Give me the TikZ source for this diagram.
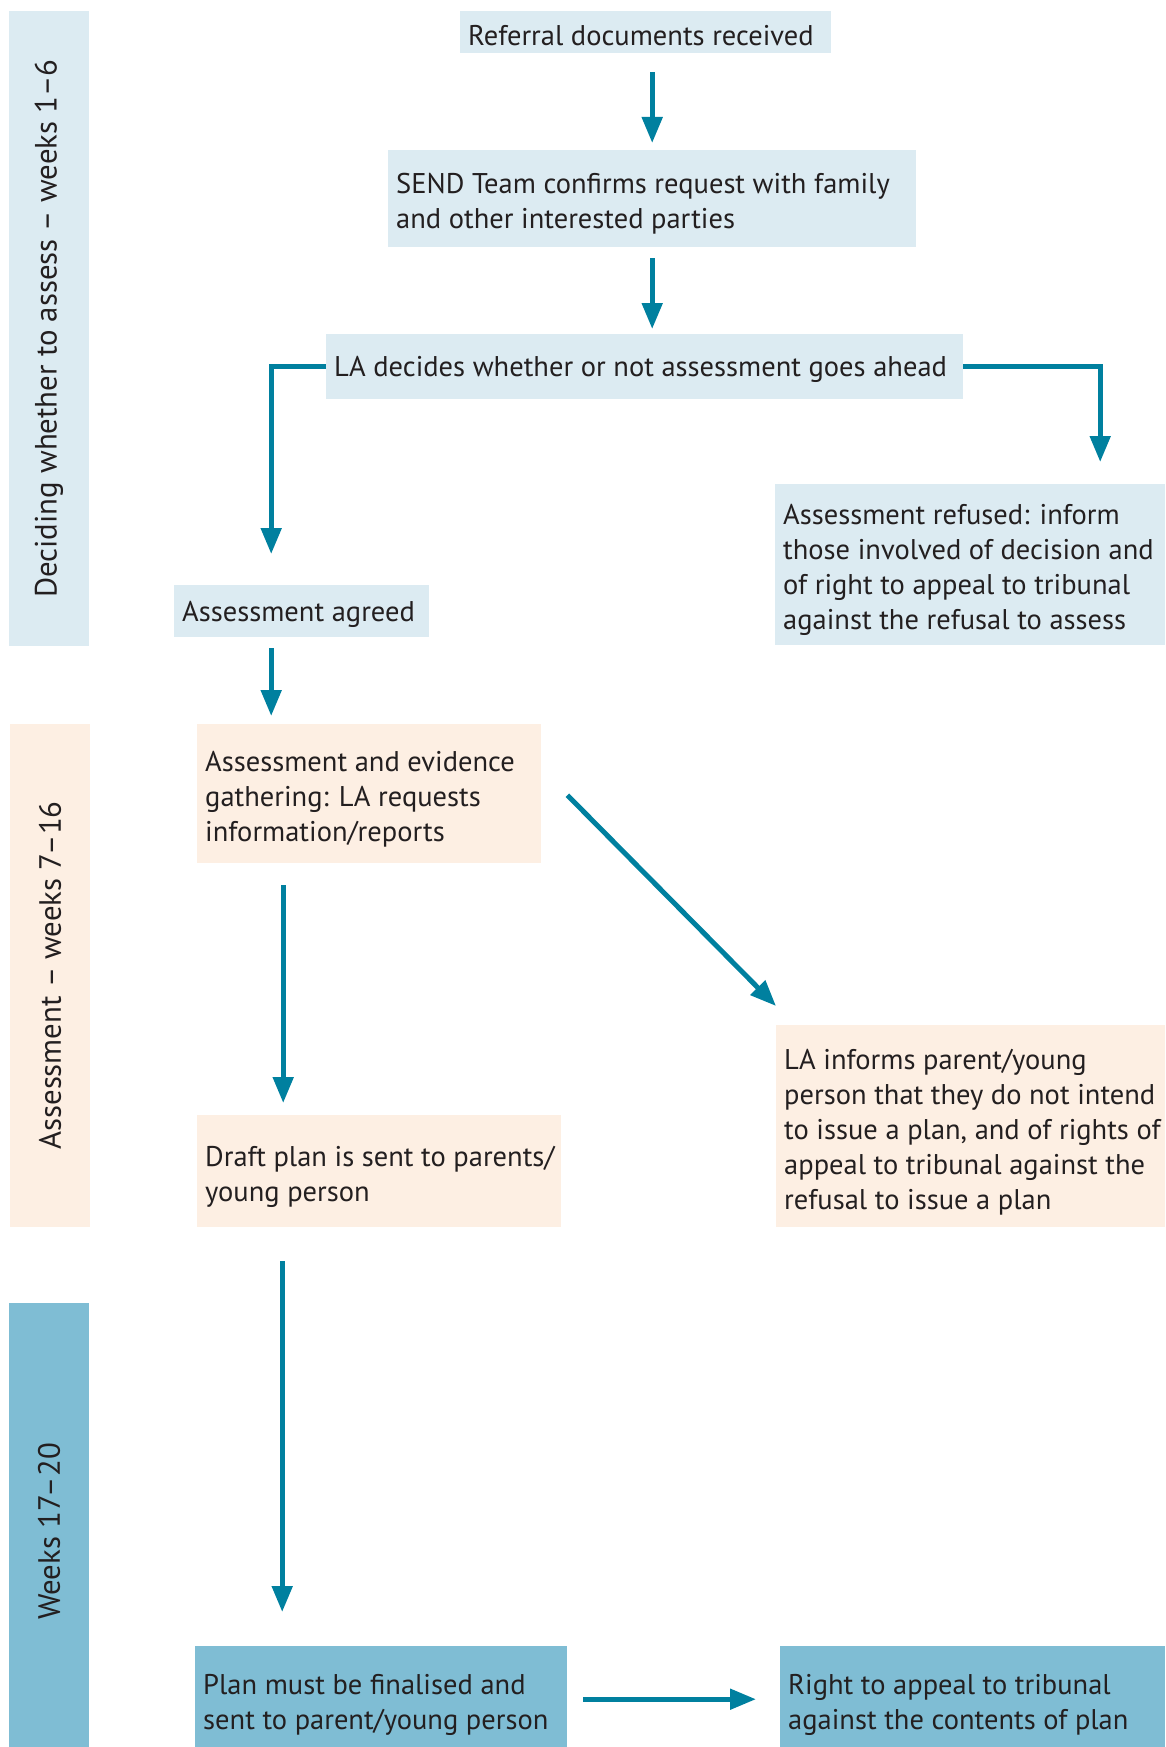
\documentclass[tikz,border=0pt]{standalone}
\usepackage{fontspec}
\setmainfont{PT Sans}
\usetikzlibrary{arrows.meta,calc}
\definecolor{lblue}{HTML}{DCEBF2}
\definecolor{peach}{HTML}{FDEFE3}
\definecolor{mblue}{HTML}{7FBDD4}
\definecolor{arrowc}{HTML}{00809F}
\definecolor{txt}{HTML}{231F20}
\begin{document}
\begin{tikzpicture}[x=1pt,y=-1pt,
  box/.style={rectangle, anchor=north west, inner sep=0pt},
  lbl/.style={anchor=west, inner sep=0pt, label distance=0pt, xshift=8pt,
    align=left, text=txt, font=\fontsize{28.5}{35}\selectfont},
  txtin/.style={label={[lbl, yshift=-5.5pt]west:{#1}}},
  txtone/.style={label={[lbl, yshift=-3pt]west:{#1}}},
  bandbox/.style={rectangle, rotate=90, inner sep=0pt, text=txt,
    font=\fontsize{30.8}{36}\selectfont, minimum height=80pt},
  arr/.style={draw=arrowc, line width=5pt, -{Triangle[width=20pt,length=26pt]}}]
\useasboundingbox (0,0) rectangle (1165,1747);
% side bands
\node[bandbox, fill=lblue, minimum width=635pt] (b1) at (49,328.5) {Deciding whether to assess -- weeks 1--6};
\node[bandbox, fill=peach, minimum width=503pt] (b2) at (50,975.5) {Assessment -- weeks 7--16};
\node[bandbox, fill=mblue, minimum width=457pt] (b3) at (49,1531.5) {Weeks 17--20};
% boxes
\node[box, fill=lblue, minimum width=371pt, minimum height=42pt,
  txtone={Referral documents received}] (ref) at (460,11) {};
\node[box, fill=lblue, minimum width=528pt, minimum height=97pt,
  txtin={SEND Team confirms request with family\\and other interested parties}] (send) at (388,150) {};
\node[box, fill=lblue, minimum width=637pt, minimum height=65pt,
  txtone={LA decides whether or not assessment goes ahead}] (la) at (326,334) {};
\node[box, fill=lblue, minimum width=255pt, minimum height=52pt,
  txtone={Assessment agreed}] (agreed) at (174,585) {};
\node[box, fill=lblue, minimum width=390pt, minimum height=161pt,
  txtin={Assessment refused: inform\\those involved of decision and\\of right to appeal to tribunal\\against the refusal to assess}] (refused) at (775,484) {};
\node[box, fill=peach, minimum width=344pt, minimum height=139pt,
  txtin={Assessment and evidence\\gathering: LA requests\\information/reports}] (ae) at (197,724) {};
\node[box, fill=peach, minimum width=364pt, minimum height=112pt,
  txtin={Draft plan is sent to parents/\\young person}] (draft) at (197,1115) {};
\node[box, fill=peach, minimum width=389pt, minimum height=202pt,
  txtin={LA informs parent/young\\person that they do not intend\\to issue a plan, and of rights of\\appeal to tribunal against the\\refusal to issue a plan}] (informs) at (776,1025) {};
\node[box, fill=mblue, minimum width=372pt, minimum height=106pt,
  txtin={Plan must be finalised and\\sent to parent/young person}] (plan) at (195,1646) {};
\node[box, fill=mblue, minimum width=385pt, minimum height=106pt,
  txtin={Right to appeal to tribunal\\against the contents of plan}] (right) at (780,1646) {};
% helper coordinates
\coordinate (c1) at ([xshift=-30.5pt]agreed.north);
\coordinate (c2) at ([xshift=-30.5pt]agreed.south);
\coordinate (c3) at ([xshift=-86pt]ae.south);
\coordinate (c4) at ([xshift=-97pt]draft.south);
\coordinate (c5) at ([xshift=130pt]refused.north);
% connectors
\draw[arr, shorten <=19pt, shorten >=7pt] (ref.south -| send.south) -- (send.north);
\draw[arr, shorten <=11pt, shorten >=5pt] (send.south) -- (send.south |- la.north);
\draw[arr, shorten >=31pt] (la.west) -| (c1);
\draw[arr, shorten >=22pt] (la.east) -| (c5);
\draw[arr, shorten <=11pt, shorten >=8pt] (c2) -- (c2 |- ae.north);
\draw[arr, shorten <=22pt, shorten >=12pt] (c3) -- (c3 |- draft.north);
\draw[arr] ([xshift=26pt,yshift=-1.5pt]ae.east) -- ([yshift=19pt]informs.north west);
\draw[arr, shorten <=34pt, shorten >=34pt] (c4) -- (c4 |- plan.north);
\draw[arr, shorten <=16pt, shorten >=24pt] (plan.east) -- (plan.east -| right.west);
\end{tikzpicture}
\end{document}
